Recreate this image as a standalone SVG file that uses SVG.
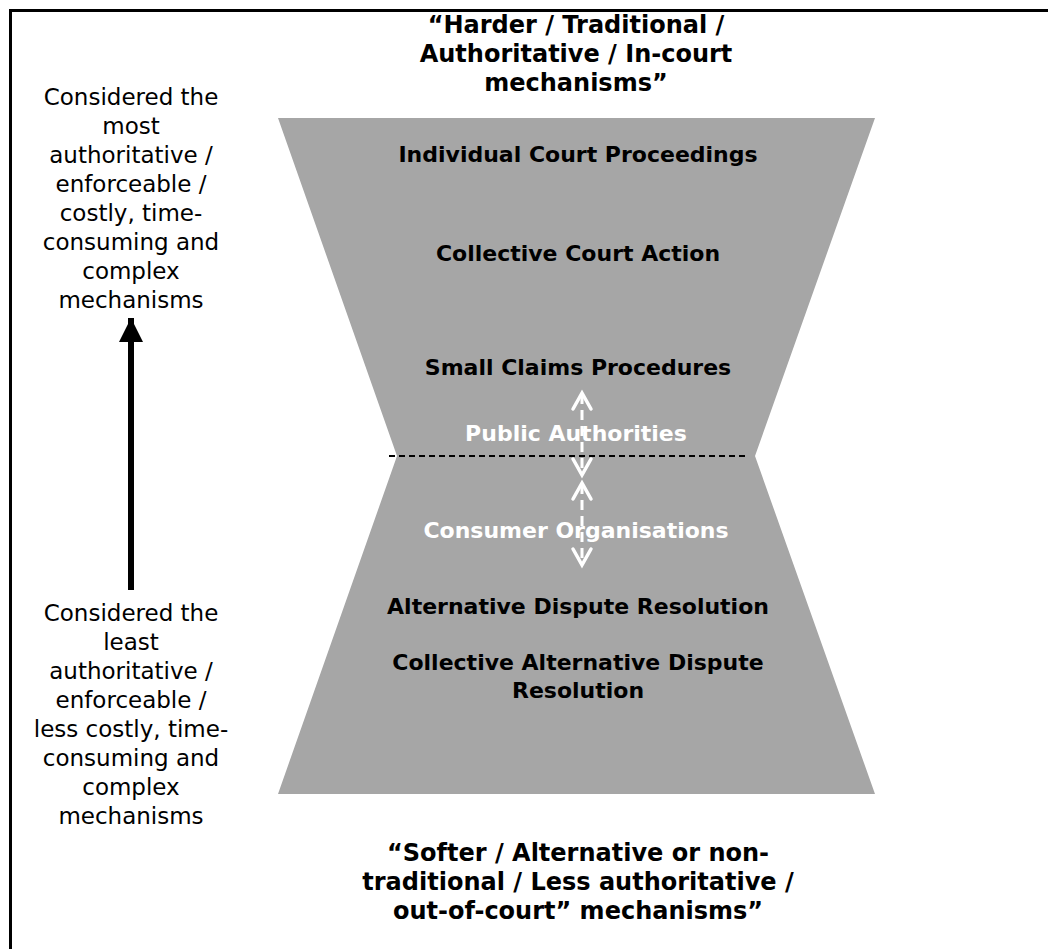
<svg xmlns="http://www.w3.org/2000/svg" width="1048" height="949" viewBox="0 0 1048 949">
<style>
.b{font-family:"DejaVu Sans",Verdana,sans-serif;font-weight:bold;font-size:22px;text-anchor:middle;fill:#000}
.t{font-size:24px}
.w{fill:#fff}
.r{font-family:"DejaVu Sans",Verdana,sans-serif;font-size:23px;text-anchor:middle;fill:#000}
.wa{stroke:#fff;stroke-width:3;fill:none}
.wh{stroke:#fff;stroke-width:3.5;fill:none;stroke-linecap:round;stroke-linejoin:miter}
</style>
<defs>
<marker id="bh" viewBox="0 0 10 10" refX="10" refY="5" markerWidth="28" markerHeight="24" markerUnits="userSpaceOnUse" orient="auto">
<path d="M0,0 L10,5 L0,10 Z" fill="#000"/>
</marker>
</defs>
<rect width="1048" height="949" fill="#fff"/>
<path d="M10.5,949 V10.5 H1048" fill="none" stroke="#000" stroke-width="3"/>
<g id="hourglass">
<polygon points="278,118 875,118 755,456 875,794 278,794 397,456" fill="#a6a6a6"/>
</g>
<g id="title-top">
<text class="b t" x="576" y="33">“Harder / Traditional /</text>
<text class="b t" x="576" y="62">Authoritative / In-court</text>
<text class="b t" x="576" y="91">mechanisms”</text>
</g>
<g id="title-bottom">
<text class="b t" x="578" y="861">“Softer / Alternative or non-</text>
<text class="b t" x="578" y="890">traditional / Less authoritative /</text>
<text class="b t" x="578" y="919">out-of-court” mechanisms”</text>
</g>
<g id="left-top">
<text class="r" x="131" y="105">Considered the</text>
<text class="r" x="131" y="134">most</text>
<text class="r" x="131" y="163">authoritative /</text>
<text class="r" x="131" y="192">enforceable /</text>
<text class="r" x="131" y="221">costly, time-</text>
<text class="r" x="131" y="250">consuming and</text>
<text class="r" x="131" y="279">complex</text>
<text class="r" x="131" y="308">mechanisms</text>
</g>
<g id="left-bottom">
<text class="r" x="131" y="621">Considered the</text>
<text class="r" x="131" y="650">least</text>
<text class="r" x="131" y="679">authoritative /</text>
<text class="r" x="131" y="708">enforceable /</text>
<text class="r" x="131" y="737">less costly, time-</text>
<text class="r" x="131" y="766">consuming and</text>
<text class="r" x="131" y="795">complex</text>
<text class="r" x="131" y="824">mechanisms</text>
</g>
<g id="n-icp"><text class="b" x="578" y="162">Individual Court Proceedings</text></g>
<g id="n-cca"><text class="b" x="578" y="261">Collective Court Action</text></g>
<g id="n-scp"><text class="b" x="578" y="375">Small Claims Procedures</text></g>
<g id="n-pa"><text class="b w" x="576" y="441">Public Authorities</text></g>
<g id="n-co"><text class="b w" x="576" y="538">Consumer Organisations</text></g>
<g id="n-adr"><text class="b" x="578" y="614">Alternative Dispute Resolution</text></g>
<g id="n-cadr">
<text class="b" x="578" y="670">Collective Alternative Dispute</text>
<text class="b" x="578" y="698">Resolution</text>
</g>
<g id="connectors">
<line x1="389" y1="456" x2="748" y2="456" stroke="#000" stroke-width="2" stroke-dasharray="6 4"/>
<line x1="131" y1="590" x2="131" y2="318" stroke="#000" stroke-width="6" marker-end="url(#bh)"/>
<line class="wa" x1="582" y1="394" x2="582" y2="474" stroke-dasharray="10 6"/>
<path class="wh" d="M573,409 L582,393 L591,409"/>
<path class="wh" d="M573,459 L582,475 L591,459"/>
<line class="wa" x1="582" y1="484" x2="582" y2="564" stroke-dasharray="10 6"/>
<path class="wh" d="M573,499 L582,483 L591,499"/>
<path class="wh" d="M573,549 L582,565 L591,549"/>
</g>
</svg>
